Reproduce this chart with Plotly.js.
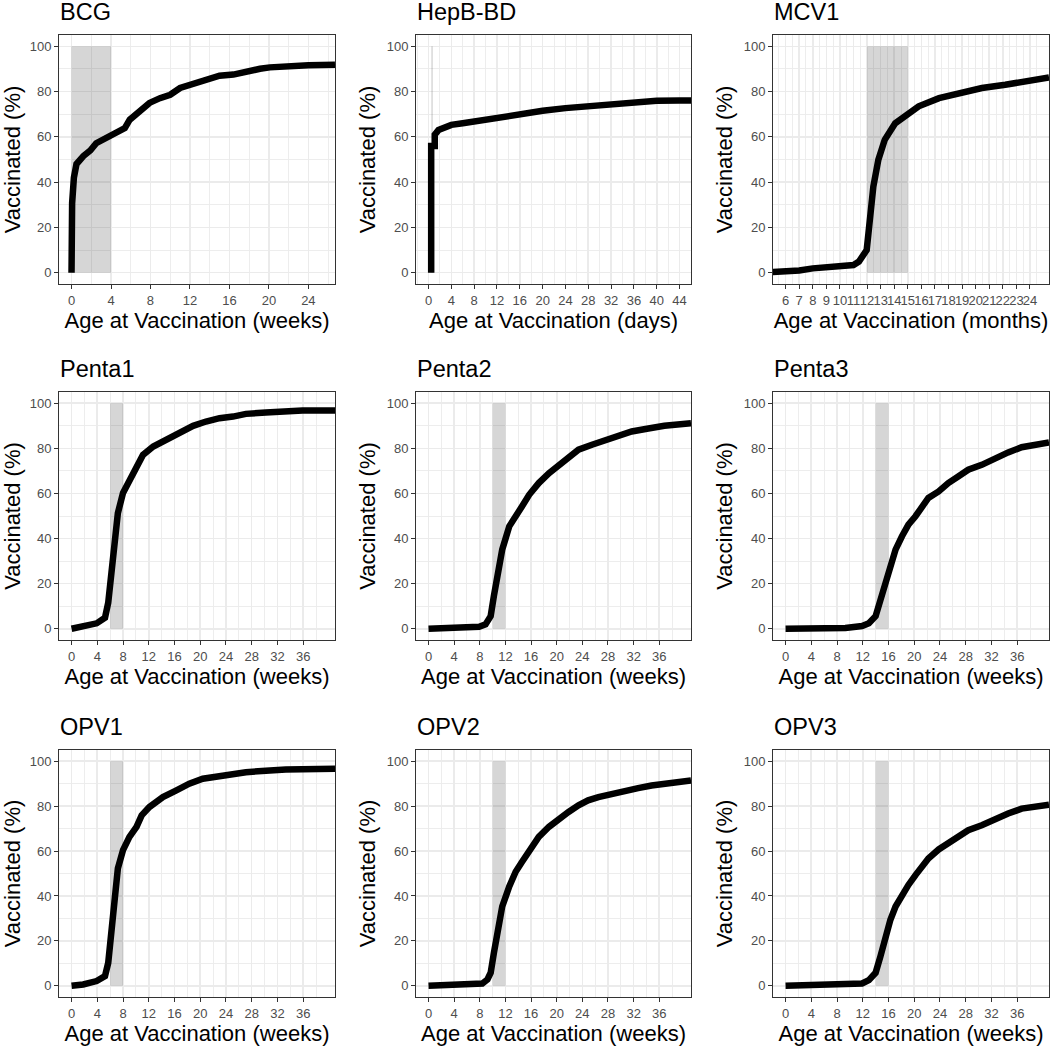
<!DOCTYPE html>
<html><head><meta charset="utf-8">
<script src="https://cdn.plot.ly/plotly-3.0.1.min.js"></script>
<style>html,body{margin:0;padding:0;background:#fff}#chart{width:1050px;height:1049px}</style>
</head><body><div id="chart"></div>
<script>
// ---- data ----
const panelNames = ['BCG','HepB-BD','MCV1','Penta1','Penta2','Penta3','OPV1','OPV2','OPV3'];
const ageUnits = ['weeks','days','months','weeks','weeks','weeks','weeks','weeks','weeks'];
const windowStart = [0, 0.5, 12, 6, 10, 14, 6, 10, 14];
const windowEnd   = [4, 0.75, 15, 8, 12, 16, 8, 12, 16];

const bcgAge = [0,0,0.06,0.24,0.5,1.2,1.9,2.5,3.2,3.9,4.56,5.4,5.9,6.6,7.3,7.9,8.96,10,11,12,13,14,15,16.4,17.7,19.1,20.1,21.8,24,26.7];
const bcgPct = [0,14.5,30.7,42,48,51.5,54,57.2,58.7,60.4,61.7,63.9,67.6,70.5,73.2,75,77.1,78.6,81.6,83,84.5,86,87,87.5,89,90.1,90.7,91.2,91.6,91.9];

const hepbAge = [0.47,0.47,1.1,1.1,1.75,2.6,3.2,4,6,8,10,12,16,20,24,28,32,36,40,44,46];
const hepbPct = [0,56,56,61,63,64,65,65.3,66,66.8,68,69,70.5,71.5,72.7,73.7,74.6,75.2,76,76.1,76.1];

const mcvAge = [5,6,7,8,9,10,11,11.4,11.7,11.97,12.1,12.2,12.46,12.83,13.3,14.07,14.97,15.8,17.3,18.7,20.46,22.18,23.9,24.4,25.4];
const mcvPct = [0.3,0.4,1.0,1.9,2.2,2.7,3.4,4.9,7.1,10,17.4,24.8,38,49.9,58.7,66,69.8,73.5,77.1,79.4,81.6,83,84.5,84.8,86.3];

const penta1Age = [0,1.8,3.9,5.2,5.7,6.2,6.7,7.2,8.0,9.0,10.1,11.1,12.7,14.7,16.8,18.9,20.9,23,25.1,27.1,30.2,32.8,35.9,40.95];
const penta1Pct = [0,0.9,2.4,4.9,11.5,24.8,42.5,51.3,60.2,66,71.2,77.1,80.8,83.8,86.7,90,91.9,93.4,94.1,95.3,95.9,96.6,96.8,96.8];

const penta2Age = [0,5.8,7.9,8.9,9.7,10.2,10.75,11.5,12.6,13.6,14.6,15.7,17.2,18.8,20.3,21.85,23.4,25.5,27.5,29.6,31.7,34.3,36.8,40.95];
const penta2Pct = [0,0.3,0.9,1.9,5.6,14.5,24.8,35.1,45.4,50.6,54.3,59.4,64.6,69,72.7,76.4,79.4,81.6,83.5,84.8,87.5,88.8,90,91.2];

const penta3Age = [0,9.3,11.9,12.95,14.0,14.75,15.5,16.3,17.1,18.1,19.1,20.2,21.2,22.2,23.8,25.3,26.9,28.4,30.5,32.5,34.6,36.7,40.95];
const penta3Pct = [0,0.3,1.2,2.4,5.6,13,21.8,29.2,35.1,41,46.2,49.9,53.5,58,60.9,64.6,67.6,70.5,72.7,75.7,78.2,80.5,82.6];

const opv1Age = [0,1.8,3.9,5.2,5.7,6.2,6.7,7.2,8.0,9.0,10.1,10.9,12.1,14.2,16.3,18.3,20.4,22.5,25.1,27.1,30.2,33.3,40.95];
const opv1Pct = [0,0.6,2.1,4.3,10.2,23.5,42.7,52.3,60.4,66.3,70.8,75.9,79.6,84,87,90,92.2,93.2,93.9,95.1,95.8,96.3,96.6];

const opv2Age = [0,6.4,8.4,9.2,9.7,10.2,10.75,11.5,12.6,13.6,14.6,15.65,17.2,18.8,20.3,21.85,23.4,24.9,26.5,28.6,30.6,32.7,34.8,37.4,40.95];
const opv2Pct = [0,0.3,1,2.8,5.8,14.6,25,35.3,44.2,50.8,55.2,59.7,66.3,70.8,74.4,77.4,80.4,82.6,84,85.5,87,88,89.2,90.3,91.4];

const opv3Age = [0,9.9,11.9,12.95,14.0,14.75,15.5,16.3,17.1,18.1,19.1,20.2,21.2,22.2,23.8,25.3,26.9,28.4,30.5,32.5,34.6,36.7,40.95];
const opv3Pct = [0,0.3,1,2.5,5.8,13.1,22,29.4,35.3,40.5,44.9,49.3,53,56.7,60.7,63.7,66.3,69.3,71.5,74.4,76.7,78.9,80.6];

const weekTicks24 = [0,4,8,12,16,20,24];
const weekTicks36 = [0,4,8,12,16,20,24,28,32,36];
const dayTicks = [0,4,8,12,16,20,24,28,32,36,40,44];
const monthTicks = [6,7,8,9,10,11,12,13,14,15,16,17,18,19,20,21,22,23,24];
const pctTicks = [0,20,40,60,80,100];

// ---- assemble ----
const ages = [bcgAge,hepbAge,mcvAge,penta1Age,penta2Age,penta3Age,opv1Age,opv2Age,opv3Age];
const pcts = [bcgPct,hepbPct,mcvPct,penta1Pct,penta2Pct,penta3Pct,opv1Pct,opv2Pct,opv3Pct];
const xTicks = [weekTicks24,dayTicks,monthTicks,weekTicks36,weekTicks36,weekTicks36,weekTicks36,weekTicks36,weekTicks36];

function minorsOf(t){
  const d = t[1]-t[0], out=[];
  for(let i=-1;i<t.length;i++){ out.push((i<0?t[0]-d:t[i]) + d/2); }
  return out;
}
const xRanges = [[-1.27,26.7],[-2.19,46],[5.07,25.4],[-1.95,40.95],[-1.95,40.95],[-1.95,40.95],[-1.95,40.95],[-1.95,40.95],[-1.95,40.95]];

const W=1050,H=1049;
const cols=[[59,335],[416,691],[773,1049]];
const rows=[[35,284],[392,640],[750,997]];
const FONT='"Liberation Sans", Arial, Helvetica, sans-serif';

const data=[], shapes=[], annotations=[];
const layout={width:W,height:H,margin:{l:0,r:0,t:0,b:0},paper_bgcolor:'#fff',plot_bgcolor:'#fff',
  font:{family:FONT,color:'#000'},showlegend:false,shapes,annotations};

for(let i=0;i<9;i++){
  const n=i+1, sx=(n===1?'':n);
  const c=cols[i%3], r=rows[Math.floor(i/3)];
  const axCommon={ticks:'outside',ticklen:4,tickwidth:1,tickcolor:'#333',tickangle:0,
    tickfont:{size:13,color:'#4D4D4D',family:FONT},showline:true,mirror:true,linecolor:'#333',linewidth:1,
    showgrid:true,gridcolor:'#EBEBEB',gridwidth:1.6,zeroline:false,fixedrange:true,automargin:false};
  layout['xaxis'+sx]=Object.assign({},axCommon,{domain:[c[0]/W,c[1]/W],anchor:'y'+sx,range:xRanges[i],
    tickmode:'array',tickvals:xTicks[i],ticktext:xTicks[i].map(String),
    minor:{tickmode:'array',tickvals:minorsOf(xTicks[i]),showgrid:true,gridcolor:'#EBEBEB',gridwidth:0.9,ticks:''},
    title:{text:'Age at Vaccination ('+ageUnits[i]+')',font:{size:22,color:'#000',family:FONT},standoff:6}});
  layout['yaxis'+sx]=Object.assign({},axCommon,{domain:[1-r[1]/H,1-r[0]/H],anchor:'x'+sx,range:[-5,105],
    tickmode:'array',tickvals:pctTicks,ticktext:pctTicks.map(String),
    minor:{tickmode:'array',tickvals:[10,30,50,70,90],showgrid:true,gridcolor:'#EBEBEB',gridwidth:0.9,ticks:''},
    title:{text:'Vaccinated (%)',font:{size:22,color:'#000',family:FONT},standoff:4}});
  shapes.push({type:'rect',xref:'x'+sx,yref:'y'+sx,x0:windowStart[i],x1:windowEnd[i],y0:0,y1:100,
    fillcolor:'rgba(51,51,51,0.2)',line:{width:0},layer:'between'});
  data.push({type:'scatter',mode:'lines',x:ages[i],y:pcts[i],xaxis:'x'+sx,yaxis:'y'+sx,
    line:{color:'#000',width:6.5},hoverinfo:'skip',showlegend:false});
  annotations.push({text:panelNames[i],xref:'paper',yref:'paper',x:c[0]/W,y:1-(r[0]-9)/H,
    xanchor:'left',yanchor:'bottom',showarrow:false,font:{size:23.5,color:'#000',family:FONT},borderpad:0});
}
Plotly.newPlot('chart',data,layout,{staticPlot:true,displayModeBar:false});
</script></body></html>
